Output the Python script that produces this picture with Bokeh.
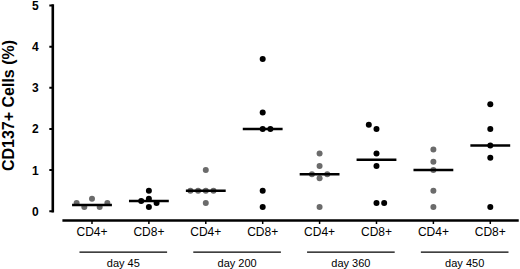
import math
from bokeh.plotting import figure
from bokeh.models import Range1d
from bokeh.core.properties import value
from bokeh.embed import file_html
from bokeh.resources import INLINE

# ---- data ----
cell_types = ["CD4+", "CD8+", "CD4+", "CD8+", "CD4+", "CD8+", "CD4+", "CD8+"]
days = ["day 45", "day 200", "day 360", "day 450"]
y_axis_title = "CD137+ Cells (%)"

values_d45_cd4 = [0.2, 0.1, 0.3, 0.1, 0.2]
values_d45_cd8 = [0.5, 0.25, 0.3, 0.2, 0.1]
values_d200_cd4 = [1.0, 0.5, 0.5, 0.5, 0.5, 0.2]
values_d200_cd8 = [3.7, 2.4, 2.0, 2.0, 0.5, 0.1]
values_d360_cd4 = [1.4, 1.1, 0.9, 0.9, 0.8, 0.1]
values_d360_cd8 = [2.1, 2.0, 1.4, 1.1, 0.2, 0.2]
values_d450_cd4 = [1.5, 1.2, 1.0, 0.5, 0.1]
values_d450_cd8 = [2.6, 2.0, 1.6, 1.3, 0.1]

# horizontal slot of each dot (spreading of overlapping dots)
slots_d45_cd4 = [-2, -1, 0, 1, 2]
slots_d45_cd8 = [0, -1, 0, 1, 0]
slots_d200_cd4 = [0, -2, -1, 0, 1, 0]
slots_d200_cd8 = [0, 0, 0, 1, 0, 0]
slots_d360_cd4 = [0, 0, -1, 1, 0, 0]
slots_d360_cd8 = [-1, 0, 0, 0, 0, 1]
slots_d450_cd4 = [0, 0, 0, 0, 0]
slots_d450_cd8 = [0, 0, 0, 0, 0]

medians = [0.15, 0.25, 0.5, 2.0, 0.9, 1.25, 1.0, 1.6]

y_ticks = [0, 1, 2, 3, 4, 5]
y_tick_labels = ["0", "1", "2", "3", "4", "5"]

all_values = [values_d45_cd4, values_d45_cd8, values_d200_cd4, values_d200_cd8,
              values_d360_cd4, values_d360_cd8, values_d450_cd4, values_d450_cd8]
all_slots = [slots_d45_cd4, slots_d45_cd8, slots_d200_cd4, slots_d200_cd8,
             slots_d360_cd4, slots_d360_cd8, slots_d450_cd4, slots_d450_cd8]

# ---- styling / layout constants ----
GREY = "#6b6b6b"
BLACK = "#000000"
SLOT_W = 0.135
FONT = value("Liberation Sans")

p = figure(width=520, height=269, output_backend="svg", toolbar_location=None,
           x_range=Range1d(-0.608, 8.531), y_range=Range1d(-1.417, 5.122),
           x_axis_location=None, y_axis_location=None,
           min_border_left=0, min_border_right=0,
           min_border_top=0, min_border_bottom=0)
p.outline_line_color = None
p.xgrid.visible = False
p.ygrid.visible = False
p.background_fill_color = "white"
p.border_fill_color = "white"

# ---- y axis ----
X_YAX = 0.311
p.segment(x0=[X_YAX], x1=[X_YAX], y0=[-0.03], y1=[5.03], line_width=2.6, line_color="black")
p.segment(x0=[X_YAX] * len(y_ticks), x1=[0.25] * len(y_ticks), y0=y_ticks, y1=y_ticks,
          line_width=2, line_color="black")
p.text(x=[0.062] * len(y_ticks), y=y_ticks, text=y_tick_labels, text_align="right",
       text_baseline="middle", text_font_size="12px", text_font_style="bold",
       text_color="black", text_font=FONT)
p.text(x=[-0.476], y=[2.57], text=[y_axis_title], angle=math.pi / 2,
       text_align="center", text_baseline="middle", text_font_size="16px",
       text_font_style="bold", text_color="black", text_font=FONT)

# ---- dots ----
xs, ys, cs = [], [], []
for i, (vals, sl) in enumerate(zip(all_values, all_slots)):
    pos = i + 1
    col = GREY if cell_types[i] == "CD4+" else BLACK
    for v, s in zip(vals, sl):
        xs.append(pos + s * SLOT_W)
        ys.append(v)
        cs.append(col)
p.scatter(x=xs, y=ys, size=6, fill_color=cs, line_color=cs, line_width=0)

# ---- median bars ----
pos = [i + 1 for i in range(len(cell_types))]
p.segment(x0=[x - 0.35 for x in pos], x1=[x + 0.35 for x in pos],
          y0=medians, y1=medians, line_width=2.5, line_color="black")

# ---- x axis ----
Y_AX = -0.226
p.segment(x0=[0.48], x1=[8.5], y0=[Y_AX], y1=[Y_AX], line_width=2.6, line_color="black")
p.segment(x0=pos, x1=pos, y0=[Y_AX] * len(pos), y1=[-0.31] * len(pos),
          line_width=1.5, line_color="black")
p.text(x=pos, y=[-0.51] * len(pos), text=cell_types, text_align="center",
       text_baseline="middle", text_font_size="12px", text_color="black",
       text_font=FONT)

# ---- group lines and labels ----
gmid = [(2 * k + 1) + 0.5 + 0.05 for k in range(len(days))]
p.segment(x0=[m - 0.77 for m in gmid], x1=[m + 0.77 for m in gmid],
          y0=[-0.997] * len(days), y1=[-0.997] * len(days),
          line_width=1.2, line_color="black")
p.text(x=gmid, y=[-1.255] * len(days), text=days, text_align="center",
       text_baseline="middle", text_font_size="11px", text_color="black",
       text_font=FONT)

open("out.html", "w").write(file_html(p, INLINE))
